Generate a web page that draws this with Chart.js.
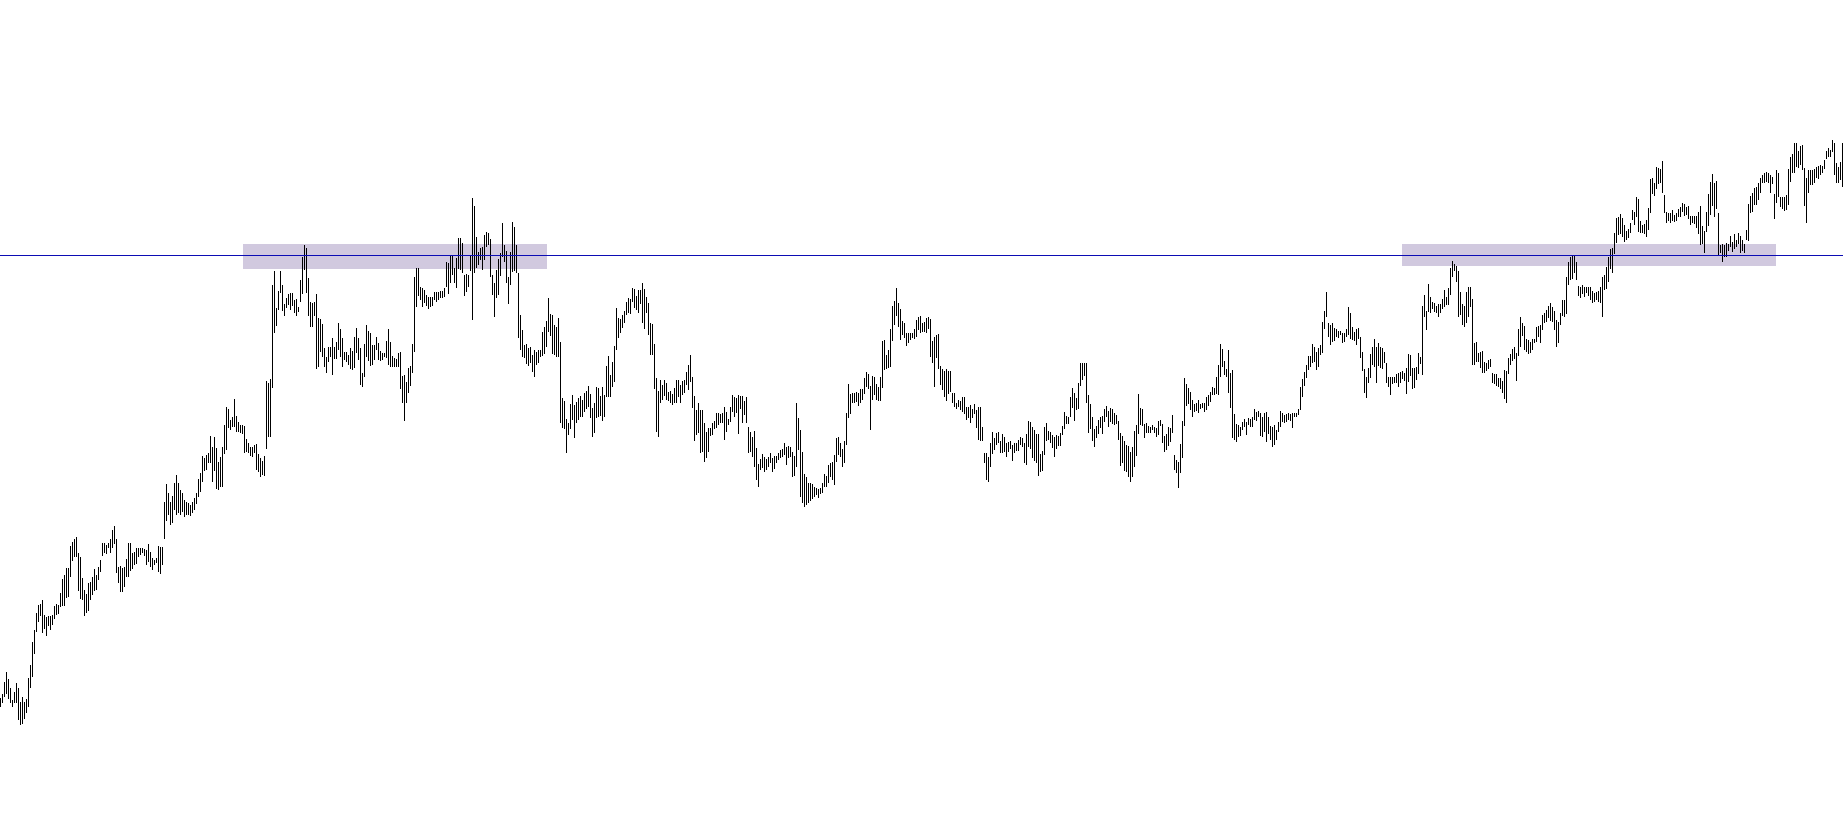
<!DOCTYPE html>
<html>
<head>
<meta charset="utf-8">
<title>Price bars</title>
<script src="https://cdn.jsdelivr.net/npm/chart.js@4.4.0/dist/chart.umd.min.js"></script>
<style>
  html, body { margin: 0; padding: 0; background: #fff; }
  #wrap { position: relative; width: 1843px; height: 815px; }
</style>
</head>
<body>
<div id="wrap"><canvas id="priceChart"></canvas></div>
<script>
// bar highs / lows, one per session, left to right
const highs = [
  117,121,133,143,136,127,115,123,132,127, 113,118,113,116,137,150,173,185,202,210,
  211,215,200,198,199,199,200,209,211,210, 222,236,240,247,247,269,273,276,278,262,
  258,237,225,221,232,233,238,246,240,248, 255,272,272,270,272,276,285,289,276,248,
  249,247,248,256,272,272,262,263,267,267, 267,267,266,265,271,263,257,255,257,269,
  268,268,313,331,322,313,319,332,340,332, 325,322,315,313,312,310,313,317,322,336,
  342,359,357,360,362,379,368,378,367,353, 358,368,390,408,406,395,398,416,399,393,
  390,390,389,376,372,368,368,370,371,361, 357,354,359,434,432,436,530,544,507,524,
  544,530,511,517,521,522,522,515,516,508, 535,558,570,567,537,513,512,513,521,497,
  496,491,467,458,468,468,477,468,473,492, 486,477,463,463,460,467,464,478,487,477,
  467,442,471,490,484,482,470,470,478,472, 464,462,462,474,486,473,459,457,456,462,
  463,439,440,433,447,449,471,538,547,547, 528,527,525,520,518,518,518,523,523,523,
  524,524,527,553,552,560,559,547,557,577, 577,572,540,541,540,560,617,609,578,563,
  567,568,580,583,582,576,540,532,545,556, 562,592,570,564,538,563,593,588,570,542,
  500,485,470,471,467,468,460,465,463,465, 465,483,488,494,517,501,500,490,488,497,
  473,417,414,396,392,411,420,410,413,417, 419,415,422,424,429,421,407,412,428,427,
  419,428,420,449,459,440,453,469,507,497, 496,500,504,513,517,516,527,526,519,525,
  525,532,526,518,512,492,491,471,437,424, 435,430,435,432,423,424,421,427,435,435,
  430,434,435,443,450,460,438,419,405,412, 405,405,392,383,387,387,392,394,402,402,
  401,402,408,403,396,408,420,418,417,420, 419,419,414,418,388,383,378,384,367,351,
  356,361,358,356,358,362,357,359,359,362, 365,366,372,368,369,368,363,359,412,397,
  385,363,341,338,332,332,331,328,327,326, 327,332,341,339,350,352,353,360,377,378,
  372,366,374,402,431,421,422,422,423,422, 426,426,437,443,441,429,439,438,431,428,
  438,474,475,460,465,486,509,514,527,512, 506,494,492,482,482,482,482,486,495,498,
  499,492,493,497,498,496,474,478,480,481, 449,446,444,446,444,444,422,422,412,415,
  414,418,418,408,408,410,406,411,405,408, 408,388,362,362,358,372,383,377,382,383,
  374,381,378,372,373,374,370,372,372,375, 378,377,372,381,394,393,388,385,381,381,
  361,364,388,392,384,383,380,378,380,379, 382,389,403,399,398,418,427,422,417,432,
  452,452,452,452,420,411,398,386,389,395, 398,399,406,409,404,407,406,402,400,394,
  382,379,374,370,369,363,368,384,390,421, 407,406,391,392,389,388,390,388,387,394,
  395,391,379,381,388,387,400,360,355,353, 371,394,437,431,427,423,415,411,412,415,
  411,412,412,418,420,423,428,427,438,450, 471,466,454,446,465,442,445,401,391,390,
  388,393,396,393,397,396,398,406,403,404, 402,398,402,403,398,389,388,390,385,393,
  404,402,400,401,402,401,402,402,402,406, 428,436,443,450,459,459,471,468,463,467,
  470,493,504,523,492,490,492,487,486,484, 484,482,482,486,508,502,488,483,486,487,
  478,463,446,438,447,461,468,476,468,472, 468,467,463,452,438,438,438,438,441,442,
  443,444,442,447,461,460,447,447,448,462, 458,509,520,504,531,518,513,512,509,511,
  511,516,525,518,527,547,554,551,549,544, 523,511,509,523,528,528,516,472,473,462,
  463,464,453,452,455,456,442,441,441,437, 437,434,445,444,457,461,466,468,462,486,
  498,492,489,476,475,473,476,476,488,489, 490,500,502,505,509,512,508,504,495,493,
  502,515,515,538,553,558,559,560,553,529, 528,530,528,528,528,528,524,522,523,524,
  528,538,540,548,558,566,567,582,597,598, 601,597,590,584,586,592,605,603,618,616,
  594,590,591,595,607,636,637,632,648,647, 646,654,620,603,602,602,605,600,602,606,
  608,612,611,608,609,599,599,599,599,603, 609,589,584,603,621,633,641,632,634,602,
  570,571,570,572,571,579,573,581,575,582, 579,575,571,585,611,619,622,627,628,632,
  637,640,642,643,642,640,638,621,645,642, 618,618,618,620,646,658,661,672,672,664,
  669,670,647,637,645,645,645,646,648,649, 650,649,655,664,667,665,675,672,652,648,
  653,672
];

const lows = [
  108,112,118,121,116,112,108,112,112,95, 90,91,96,102,108,127,138,161,183,193,
  199,182,186,179,189,185,190,196,200,201, 208,209,209,217,218,238,254,258,258,224,
  216,215,199,202,204,215,220,224,225,235, 243,259,262,261,267,262,267,271,242,232,
  223,223,228,238,238,244,246,250,251,258, 260,262,259,250,253,248,245,250,252,243,
  241,250,276,294,300,290,292,305,300,302, 300,303,298,300,300,299,302,305,311,318,
  323,333,344,345,352,352,333,344,326,325, 328,328,361,365,387,385,388,388,383,383,
  382,381,362,363,362,359,358,362,345,343, 338,340,339,366,378,378,427,482,489,505,
  522,504,499,507,510,505,509,502,499,503, 513,521,545,522,499,488,488,499,446,448,
  463,458,448,442,453,458,440,456,456,465, 458,448,455,453,450,446,445,447,462,455,
  430,428,438,458,454,449,450,455,465,455, 454,455,458,457,450,448,448,448,448,448,
  426,412,394,412,422,429,442,463,508,519, 515,508,512,509,506,508,509,515,513,515,
  517,517,518,528,521,532,540,532,527,546, 545,542,519,523,528,544,495,542,547,550,
  555,545,555,568,570,538,520,498,517,520, 539,558,553,532,511,530,543,544,542,477,
  465,458,457,451,449,452,443,438,450,452, 458,459,461,468,483,479,461,460,458,458,
  392,387,386,362,380,386,395,377,392,395, 398,398,403,406,408,397,378,382,397,398,
  399,394,398,418,418,418,428,433,465,477, 482,487,492,500,502,501,513,507,505,502,
  511,492,486,502,480,460,460,426,383,378, 412,415,419,415,414,412,410,412,412,418,
  412,420,422,430,425,433,407,374,380,382, 362,363,353,357,363,379,380,386,387,390,
  392,392,375,383,390,393,403,398,402,381, 406,392,400,392,362,363,358,348,335,328,
  345,347,343,345,348,352,343,346,352,355, 357,358,360,350,357,358,338,339,348,365,
  318,312,308,310,312,314,316,318,320,317, 321,322,328,328,332,338,335,330,353,360,
  358,348,352,370,397,401,412,412,413,409, 412,415,421,428,426,385,415,420,415,414,
  414,427,445,446,447,448,474,490,499,488, 475,480,477,469,472,475,477,476,478,485,
  482,483,483,482,486,458,452,428,457,446, 430,425,418,414,421,423,412,408,406,408,
  405,403,401,395,397,392,397,401,387,375, 374,374,352,335,333,348,361,365,370,372,
  362,362,363,358,363,366,354,362,364,364, 370,368,352,350,368,366,357,354,352,339,
  343,344,360,374,375,372,367,358,366,369, 369,380,386,391,391,398,407,394,405,406,
  429,435,439,412,382,386,374,368,377,381, 387,381,393,398,388,393,391,390,391,375,
  349,352,344,343,338,333,338,348,359,381, 390,389,377,382,382,382,385,382,378,380,
  389,372,363,365,369,373,382,345,342,327, 342,357,389,409,411,405,398,403,404,402,
  406,407,403,405,409,413,420,420,421,420, 438,448,440,438,422,407,377,375,373,378,
  379,385,388,380,390,388,388,395,394,398, 379,378,383,373,381,375,368,370,375,383,
  388,393,392,393,395,394,387,398,398,400, 405,418,429,437,445,448,452,453,445,448,
  460,462,486,498,478,470,473,474,478,477, 480,472,473,478,480,476,475,474,470,476,
  457,444,422,417,432,437,450,448,432,449, 447,446,452,432,428,420,431,432,432,428,
  432,436,434,421,433,439,426,427,435,441, 451,440,498,485,503,502,506,503,502,498,
  502,506,508,510,510,520,538,544,533,498, 500,490,488,492,498,508,450,450,453,453,
  447,442,442,444,446,448,432,431,429,428, 426,422,416,412,441,450,454,456,434,459,
  468,479,465,463,461,462,465,472,473,478, 472,485,492,493,497,494,493,485,468,472,
  490,499,498,501,530,535,536,542,535,519, 517,521,518,522,519,515,512,513,515,513,
  512,498,525,526,533,546,542,561,572,580, 581,578,573,575,577,582,595,590,598,583,
  582,582,581,578,585,602,621,619,626,631, 632,622,602,592,594,592,594,593,594,598,
  598,603,599,600,596,590,592,591,587,581, 570,571,562,583,589,600,609,598,606,560,
  562,553,558,558,564,568,563,566,568,571, 562,564,562,575,574,602,603,610,610,615,
  622,632,632,633,632,622,631,596,612,618, 608,606,604,605,610,633,642,642,648,647,
  650,645,609,592,622,630,630,632,637,636, 640,642,646,656,658,658,663,640,632,632,
  635,628
];

// resistance level and the two shaded zones (in bar-number / price units)
const levelValue = 560;
const zoneStart = [122.25, 701.75];
const zoneEnd = [274.25, 888.75];
const zoneLow = [546, 549];
const zoneHigh = [571, 571];

const bars = highs.map((h, i) => ({ x: i + 1, y: [lows[i], h] }));

const zonePlugin = {
  id: "zones",
  beforeDatasetsDraw(chart) {
    const { ctx, scales: { x, y } } = chart;
    ctx.save();
    ctx.fillStyle = "#d1c9df";
    zoneStart.forEach((s, k) => {
      const x1 = x.getPixelForValue(s);
      const x2 = x.getPixelForValue(zoneEnd[k]);
      const y1 = y.getPixelForValue(zoneHigh[k]);
      const y2 = y.getPixelForValue(zoneLow[k]);
      ctx.fillRect(x1, y1, x2 - x1, y2 - y1);
    });
    ctx.restore();
  },
  afterDatasetsDraw(chart) {
    const { ctx, chartArea, scales: { y } } = chart;
    const py = y.getPixelForValue(levelValue);
    ctx.save();
    ctx.fillStyle = "#0c0cb4";
    ctx.fillRect(chartArea.left, py, chartArea.right - chartArea.left, 1);
    ctx.restore();
  }
};

new Chart(document.getElementById("priceChart"), {
  type: "bar",
  data: {
    datasets: [{
      data: bars,
      backgroundColor: "#000000",
      barThickness: 1,
      inflateAmount: 0,
      borderWidth: 0
    }]
  },
  options: {
    responsive: true,
    maintainAspectRatio: false,
    animation: false,
    devicePixelRatio: 1,
    layout: { padding: 0, autoPadding: false },
    scales: {
      x: { type: "linear", offset: false, min: 0.75, max: highs.length + 0.25, display: false },
      y: { min: 0, max: 815, display: false }
    },
    plugins: {
      legend: { display: false },
      tooltip: { enabled: false }
    }
  },
  plugins: [zonePlugin]
});
</script>
</body>
</html>
